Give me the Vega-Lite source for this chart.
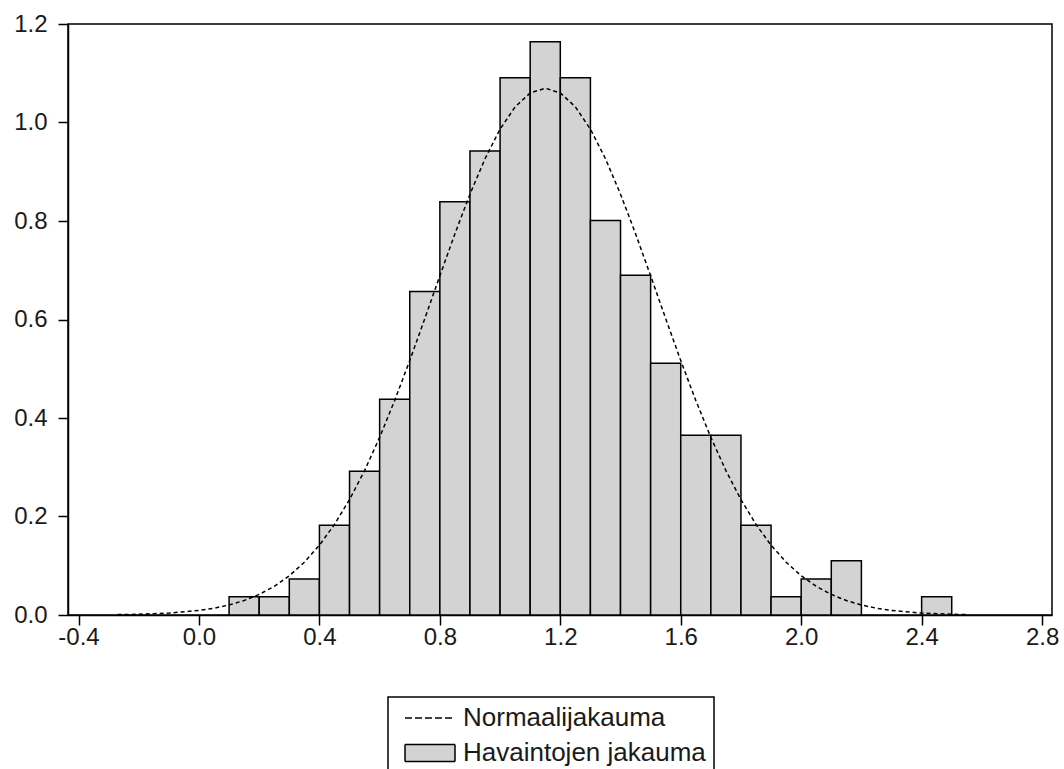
{
  "$schema": "https://vega.github.io/schema/vega-lite/v6.json",
  "width": 984,
  "height": 591,
  "autosize": "none",
  "padding": {"left": 68, "top": 24, "right": 12, "bottom": 154},
  "background": "white",
  "config": {
    "view": {"stroke": "black", "strokeWidth": 1.5},
    "font": "Liberation Sans",
    "axis": {
      "grid": false,
      "domainColor": "black",
      "domainWidth": 1.5,
      "tickColor": "black",
      "tickWidth": 1.5,
      "tickSize": 10,
      "labelFont": "Liberation Sans",
      "labelFontSize": 24,
      "labelColor": "#1a1a1a",
      "title": null
    },
    "legend": {
      "orient": "none",
      "legendX": 320,
      "legendY": 673,
      "direction": "vertical",
      "strokeColor": "black",
      "strokeWidth": 1.5,
      "fillColor": "white",
      "padding": 8,
      "symbolSize": 400,
      "symbolOffset": 6,
      "symbolStrokeWidth": 1.5,
      "symbolOpacity": 1,
      "labelOffset": 35,
      "labelFont": "Liberation Sans",
      "labelFontSize": 26,
      "labelColor": "#1a1a1a",
      "rowPadding": 9,
      "labelLimit": 400
    }
  },
  "datasets": {
    "bars": [
      {"start": 0.1, "end": 0.2, "density": 0.037, "series": "Havaintojen jakauma"},
      {"start": 0.2, "end": 0.3, "density": 0.037, "series": "Havaintojen jakauma"},
      {"start": 0.3, "end": 0.4, "density": 0.073, "series": "Havaintojen jakauma"},
      {"start": 0.4, "end": 0.5, "density": 0.182, "series": "Havaintojen jakauma"},
      {"start": 0.5, "end": 0.6, "density": 0.292, "series": "Havaintojen jakauma"},
      {"start": 0.6, "end": 0.7, "density": 0.438, "series": "Havaintojen jakauma"},
      {"start": 0.7, "end": 0.8, "density": 0.657, "series": "Havaintojen jakauma"},
      {"start": 0.8, "end": 0.9, "density": 0.839, "series": "Havaintojen jakauma"},
      {"start": 0.9, "end": 1.0, "density": 0.942, "series": "Havaintojen jakauma"},
      {"start": 1.0, "end": 1.1, "density": 1.091, "series": "Havaintojen jakauma"},
      {"start": 1.1, "end": 1.2, "density": 1.164, "series": "Havaintojen jakauma"},
      {"start": 1.2, "end": 1.3, "density": 1.091, "series": "Havaintojen jakauma"},
      {"start": 1.3, "end": 1.4, "density": 0.801, "series": "Havaintojen jakauma"},
      {"start": 1.4, "end": 1.5, "density": 0.690, "series": "Havaintojen jakauma"},
      {"start": 1.5, "end": 1.6, "density": 0.511, "series": "Havaintojen jakauma"},
      {"start": 1.6, "end": 1.7, "density": 0.365, "series": "Havaintojen jakauma"},
      {"start": 1.7, "end": 1.8, "density": 0.365, "series": "Havaintojen jakauma"},
      {"start": 1.8, "end": 1.9, "density": 0.182, "series": "Havaintojen jakauma"},
      {"start": 1.9, "end": 2.0, "density": 0.037, "series": "Havaintojen jakauma"},
      {"start": 2.0, "end": 2.1, "density": 0.073, "series": "Havaintojen jakauma"},
      {"start": 2.1, "end": 2.2, "density": 0.110, "series": "Havaintojen jakauma"},
      {"start": 2.4, "end": 2.5, "density": 0.037, "series": "Havaintojen jakauma"}
    ],
    "curve": [
      {"x": -0.27, "density": 0.0008, "series": "Normaalijakauma"},
      {"x": -0.2, "density": 0.0015, "series": "Normaalijakauma"},
      {"x": -0.1, "density": 0.0039, "series": "Normaalijakauma"},
      {"x": 0.0, "density": 0.0092, "series": "Normaalijakauma"},
      {"x": 0.05, "density": 0.0138, "series": "Normaalijakauma"},
      {"x": 0.1, "density": 0.0203, "series": "Normaalijakauma"},
      {"x": 0.15, "density": 0.0294, "series": "Normaalijakauma"},
      {"x": 0.2, "density": 0.0418, "series": "Normaalijakauma"},
      {"x": 0.25, "density": 0.0582, "series": "Normaalijakauma"},
      {"x": 0.3, "density": 0.0797, "series": "Normaalijakauma"},
      {"x": 0.35, "density": 0.1072, "series": "Normaalijakauma"},
      {"x": 0.4, "density": 0.1417, "series": "Normaalijakauma"},
      {"x": 0.45, "density": 0.1838, "series": "Normaalijakauma"},
      {"x": 0.5, "density": 0.2343, "series": "Normaalijakauma"},
      {"x": 0.55, "density": 0.2933, "series": "Normaalijakauma"},
      {"x": 0.6, "density": 0.3607, "series": "Normaalijakauma"},
      {"x": 0.65, "density": 0.4356, "series": "Normaalijakauma"},
      {"x": 0.7, "density": 0.5166, "series": "Normaalijakauma"},
      {"x": 0.75, "density": 0.6019, "series": "Normaalijakauma"},
      {"x": 0.8, "density": 0.6887, "series": "Normaalijakauma"},
      {"x": 0.85, "density": 0.774, "series": "Normaalijakauma"},
      {"x": 0.9, "density": 0.8545, "series": "Normaalijakauma"},
      {"x": 0.95, "density": 0.9264, "series": "Normaalijakauma"},
      {"x": 1.0, "density": 0.9865, "series": "Normaalijakauma"},
      {"x": 1.05, "density": 1.0318, "series": "Normaalijakauma"},
      {"x": 1.1, "density": 1.06, "series": "Normaalijakauma"},
      {"x": 1.15, "density": 1.0696, "series": "Normaalijakauma"},
      {"x": 1.2, "density": 1.06, "series": "Normaalijakauma"},
      {"x": 1.25, "density": 1.0318, "series": "Normaalijakauma"},
      {"x": 1.3, "density": 0.9865, "series": "Normaalijakauma"},
      {"x": 1.35, "density": 0.9264, "series": "Normaalijakauma"},
      {"x": 1.4, "density": 0.8545, "series": "Normaalijakauma"},
      {"x": 1.45, "density": 0.774, "series": "Normaalijakauma"},
      {"x": 1.5, "density": 0.6887, "series": "Normaalijakauma"},
      {"x": 1.55, "density": 0.6019, "series": "Normaalijakauma"},
      {"x": 1.6, "density": 0.5166, "series": "Normaalijakauma"},
      {"x": 1.65, "density": 0.4356, "series": "Normaalijakauma"},
      {"x": 1.7, "density": 0.3607, "series": "Normaalijakauma"},
      {"x": 1.75, "density": 0.2933, "series": "Normaalijakauma"},
      {"x": 1.8, "density": 0.2343, "series": "Normaalijakauma"},
      {"x": 1.85, "density": 0.1838, "series": "Normaalijakauma"},
      {"x": 1.9, "density": 0.1417, "series": "Normaalijakauma"},
      {"x": 1.95, "density": 0.1072, "series": "Normaalijakauma"},
      {"x": 2.0, "density": 0.0797, "series": "Normaalijakauma"},
      {"x": 2.05, "density": 0.0582, "series": "Normaalijakauma"},
      {"x": 2.1, "density": 0.0418, "series": "Normaalijakauma"},
      {"x": 2.15, "density": 0.0294, "series": "Normaalijakauma"},
      {"x": 2.2, "density": 0.0203, "series": "Normaalijakauma"},
      {"x": 2.25, "density": 0.0138, "series": "Normaalijakauma"},
      {"x": 2.3, "density": 0.0092, "series": "Normaalijakauma"},
      {"x": 2.4, "density": 0.0039, "series": "Normaalijakauma"},
      {"x": 2.5, "density": 0.0015, "series": "Normaalijakauma"},
      {"x": 2.55, "density": 0.0009, "series": "Normaalijakauma"}
    ]
  },
  "layer": [
    {
      "data": {"name": "bars"},
      "mark": {"type": "bar", "stroke": "black", "strokeWidth": 1.5, "fillOpacity": 1},
      "encoding": {
        "x": {
          "field": "start", "type": "quantitative",
          "scale": {"domain": [-0.435, 2.833], "nice": false, "zero": false},
          "axis": {
            "values": [-0.4, 0.0, 0.4, 0.8, 1.2, 1.6, 2.0, 2.4, 2.8],
            "labelExpr": "(datum.value < 0 ? '-' : '') + format(abs(datum.value), '.1f')",
            "labelPadding": 0,
            "labelFlush": false
          }
        },
        "x2": {"field": "end"},
        "y": {
          "field": "density", "type": "quantitative",
          "scale": {"domain": [0, 1.2], "nice": false},
          "axis": {
            "values": [0, 0.2, 0.4, 0.6, 0.8, 1.0, 1.2],
            "format": ".1f",
            "labelPadding": 11,
            "labelFlush": false
          }
        },
        "y2": {"datum": 0},
        "fill": {
          "field": "series", "type": "nominal", "title": null,
          "scale": {"domain": ["Normaalijakauma", "Havaintojen jakauma"], "range": ["white", "#d3d3d3"]}
        }
      }
    },
    {
      "data": {"name": "curve"},
      "mark": {"type": "line", "strokeDash": [4, 3], "strokeWidth": 1.5},
      "encoding": {
        "x": {"field": "x", "type": "quantitative"},
        "y": {"field": "density", "type": "quantitative"},
        "stroke": {
          "field": "series", "type": "nominal", "title": null,
          "scale": {"domain": ["Normaalijakauma", "Havaintojen jakauma"], "range": ["black", "black"]}
        }
      }
    },
    {
      "data": {"name": "curve"},
      "mark": {"type": "point", "opacity": 0, "filled": false},
      "encoding": {
        "x": {"field": "x", "type": "quantitative"},
        "y": {"field": "density", "type": "quantitative"},
        "shape": {
          "field": "series", "type": "nominal", "title": null,
          "scale": {"domain": ["Normaalijakauma", "Havaintojen jakauma"], "range": ["M-1,0H4", "M-1,-0.85H4V0.85H-1Z"]}
        },
        "strokeDash": {
          "field": "series", "type": "nominal", "title": null,
          "scale": {"domain": ["Normaalijakauma", "Havaintojen jakauma"], "range": [[7, 3], [1, 0]]}
        }
      }
    }
  ]
}
